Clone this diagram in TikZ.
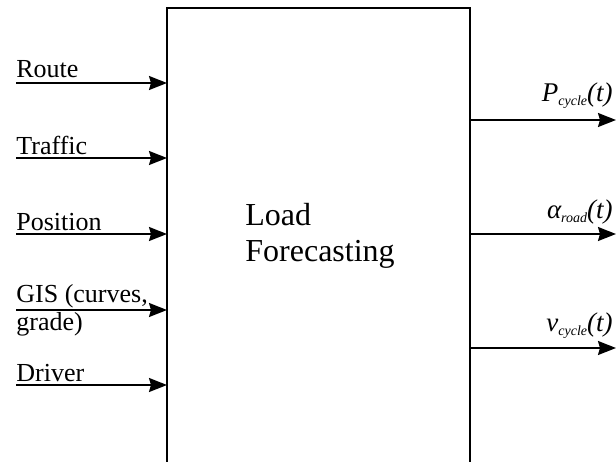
\documentclass[tikz,border=0pt]{standalone}
\usepackage{fontspec}
\setmainfont{Liberation Serif}
\usetikzlibrary{arrows.meta}
\newcommand{\subit}[1]{\raisebox{-0.4ex}{\fontsize{7}{8}\selectfont\itshape #1}}
\begin{document}
\begin{tikzpicture}[x=0.5pt,y=-0.5pt,
  conn/.style={line width=0.85pt, -{Stealth[length=9pt,width=7pt,inset=1pt]}},
  inlab/.style={anchor=base west, inner sep=0pt, font=\fontsize{13}{14.5}\selectfont},
  outlab/.style={anchor=base east, inner sep=0pt, font=\fontsize{13.5}{15}\selectfont\itshape},
  boxline/.style={line width=1pt}]
\useasboundingbox (0,0) rectangle (616,461);
% main block (open at the bottom edge of the picture)
\coordinate (bl) at (167,470);
\coordinate (tl) at (167,8);
\coordinate (tr) at (470,8);
\coordinate (br) at (470,470);
\draw[boxline] (bl) -- (tl) -- (tr) -- (br);
\node[font=\fontsize{16}{18}\selectfont, align=left, inner sep=0pt, anchor=base west] (lf) at (245,261) {Load\\Forecasting};
% inputs
\foreach \n/\y in {route/83, traffic/158, position/234, gis/310, driver/385}{
  \coordinate (\n s) at (16,\y);
  \coordinate (\n e) at (167,\y);
  \draw[conn] (\n s) -- (\n e);
}
\node[inlab] (lroute) at (16,77) {Route};
\node[inlab] (ltraffic) at (16,154) {Traffic};
\node[inlab] (lposition) at (16,230) {Position};
\node[inlab] (lgis1) at (16,302) {GIS (curves,};
\node[inlab] (lgis2) at (16,330) {grade)};
\node[inlab] (ldriver) at (16,381) {Driver};
% outputs
\foreach \n/\y in {p/120, a/234, v/348}{
  \coordinate (\n s) at (470,\y);
  \coordinate (\n e) at (616,\y);
  \draw[conn] (\n s) -- (\n e);
}
\node[outlab] (lp) at (613,101) {P\subit{cycle}(t)};
\node[outlab] (la) at (613,218) {α\subit{road}(t)};
\node[outlab] (lv) at (613,331) {v\subit{cycle}(t)};
\end{tikzpicture}
\end{document}
